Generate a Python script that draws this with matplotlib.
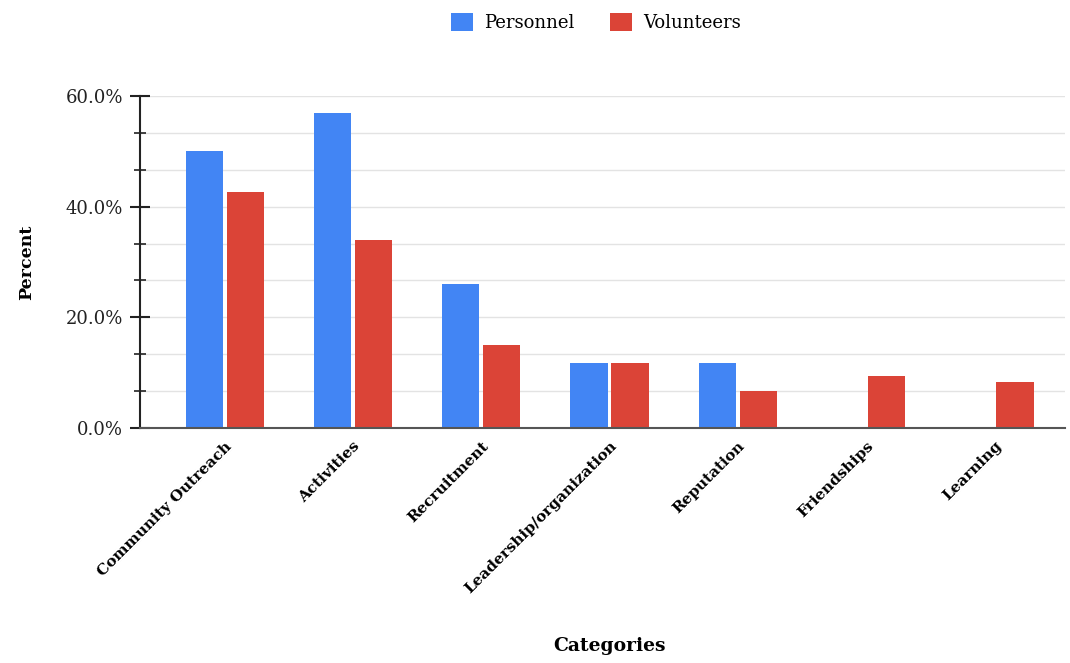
import numpy as np
import matplotlib.pyplot as plt
from matplotlib.ticker import MultipleLocator, FuncFormatter

# data
categories = ["Community Outreach", "Activities", "Recruitment",
              "Leadership/organization", "Reputation", "Friendships", "Learning"]
personnel = [50.0, 57.0, 26.0, 11.8, 11.8, 0.0, 0.0]
volunteers = [42.7, 34.0, 15.0, 11.8, 6.7, 9.4, 8.3]

plt.rcParams['font.family'] = ['DejaVu Serif']

fig = plt.figure(figsize=(10.7, 6.63), dpi=100)
ax = fig.add_axes([0.1308, 0.3544, 0.8645, 0.5008])

x = np.arange(len(categories))
w = 0.29
gap = 0.015
ax.bar(x - w / 2 - gap, personnel, width=w, color='#4285F4', label='Personnel', zorder=3)
ax.bar(x + w / 2 + gap, volunteers, width=w, color='#DB4437', label='Volunteers', zorder=3)

ax.set_xlim(-0.66, 6.55)
ax.set_ylim(0, 60)

# y axis: major ticks every 20, grid every 20/3
ax.yaxis.set_major_locator(MultipleLocator(20))
ax.yaxis.set_minor_locator(MultipleLocator(20 / 3))
ax.yaxis.set_major_formatter(FuncFormatter(lambda v, p: f"{v:.1f}%"))
ax.grid(axis='y', which='both', color='#e3e3e3', linewidth=1, zorder=0)
ax.tick_params(axis='y', which='major', direction='inout', length=14, width=1.5,
               labelsize=13, pad=5, colors='#222222')
ax.tick_params(axis='y', which='minor', direction='inout', length=9, width=1.2, color='#222222')

ax.set_xticks(x)
ax.set_xticklabels(categories, rotation=45, ha='right', rotation_mode='anchor',
                   fontsize=11, fontweight='bold')
ax.tick_params(axis='x', length=0, pad=8)

for s in ['top', 'right']:
    ax.spines[s].set_visible(False)
ax.spines['left'].set_color('#222222')
ax.spines['left'].set_linewidth(1.5)
ax.spines['bottom'].set_color('#555555')
ax.spines['bottom'].set_linewidth(1.5)
ax.spines['bottom'].set_zorder(4)

ax.set_ylabel('Percent', fontsize=12.5, fontweight='bold', labelpad=22)
fig.text(0.57, 0.018, 'Categories', fontsize=13.5, fontweight='bold', ha='center')

fig.legend(loc='upper center', bbox_to_anchor=(0.557, 1.005), ncol=2, frameon=False,
           fontsize=13, handlelength=1.2, handleheight=1.2, columnspacing=2.0,
           handletextpad=0.6)

fig.savefig('out.png', dpi=100)
